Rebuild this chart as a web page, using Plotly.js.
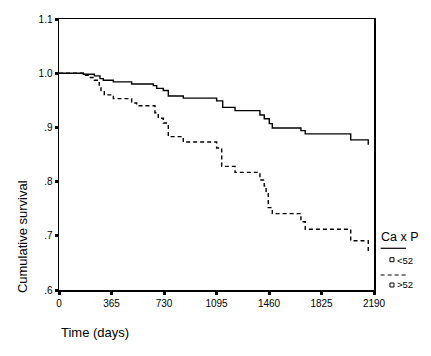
<!DOCTYPE html>
<html>
<head>
<meta charset="utf-8">
<script src="https://cdn.plot.ly/plotly-3.0.1.min.js"></script>
<style>html,body{margin:0;padding:0;background:#fff;}</style>
</head>
<body>
<div id="chart" style="width:431px;height:356px;"></div>
<script>
// Group "<52" (solid)
var lowDays = [0, 169, 246, 285, 308, 378, 505, 656, 679, 725, 760, 864, 1096, 1138, 1224, 1397, 1427, 1462, 1483, 1682, 1712, 2028, 2150];
var lowSurv = [1.0, 0.998, 0.995, 0.990, 0.987, 0.984, 0.980, 0.977, 0.972, 0.968, 0.958, 0.954, 0.949, 0.937, 0.931, 0.923, 0.916, 0.907, 0.899, 0.894, 0.888, 0.877, 0.868];
// Group ">52" (dashed)
var highDays = [0, 169, 204, 246, 280, 292, 315, 378, 505, 540, 667, 690, 725, 760, 864, 1096, 1131, 1224, 1397, 1427, 1440, 1455, 1483, 1682, 1712, 2028, 2150];
var highSurv = [1.0, 0.996, 0.992, 0.987, 0.978, 0.968, 0.960, 0.953, 0.945, 0.940, 0.927, 0.917, 0.908, 0.883, 0.873, 0.862, 0.828, 0.817, 0.803, 0.792, 0.780, 0.752, 0.741, 0.726, 0.712, 0.691, 0.671];

var xTicks = [0, 365, 730, 1095, 1460, 1825, 2190];
var yTicks = [0.6, 0.7, 0.8, 0.9, 1.0, 1.1];
var yTickText = ['.6', '.7', '.8', '.9', '1.0', '1.1'];

var legendTitle = 'Ca x P';
var groupNames = ['<52', '>52'];

var font = 'Liberation Sans, Arial, sans-serif';

var traces = [
  {x: lowDays, y: lowSurv, mode: 'lines', line: {shape: 'hv', color: '#000', width: 1.4}, name: groupNames[0], showlegend: false, hoverinfo: 'skip'},
  {x: highDays, y: highSurv, mode: 'lines', line: {shape: 'hv', color: '#000', width: 1.4, dash: '4px,3px'}, name: groupNames[1], showlegend: false, hoverinfo: 'skip'}
];

var W = 315, H = 271;
function px(p) { return p / W; }
function py(p) { return p / H; }

var shapes = [
  {type: 'line', xref: 'paper', yref: 'paper', x0: 1.021, x1: 1.1016, y0: 0.1539, y1: 0.1539, line: {color: '#000', width: 1.2}},
  {type: 'line', xref: 'paper', yref: 'paper', x0: 1.021, x1: 1.1016, y0: 0.0554, y1: 0.0554, line: {color: '#000', width: 1.2, dash: '4px,3px'}},
  {type: 'rect', xref: 'paper', yref: 'paper', x0: 1.057 - px(2), x1: 1.057 + px(2), y0: 0.1118 - py(2), y1: 0.1118 + py(2), line: {color: '#000', width: 1}, fillcolor: 'rgba(0,0,0,0)'},
  {type: 'rect', xref: 'paper', yref: 'paper', x0: 1.057 - px(2), x1: 1.057 + px(2), y0: 0.0185 - py(2), y1: 0.0185 + py(2), line: {color: '#000', width: 1}, fillcolor: 'rgba(0,0,0,0)'}
];

var annotations = [
  {text: 'Cumulative survival', xref: 'paper', yref: 'paper', x: -0.114, y: 0.1956, textangle: -90, showarrow: false, xanchor: 'center', yanchor: 'middle', font: {family: font, size: 13, color: '#000'}},
  {text: 'Time (days)', xref: 'paper', yref: 'paper', x: 0.0, y: -0.1576, showarrow: false, xanchor: 'left', yanchor: 'middle', font: {family: font, size: 13, color: '#000'}},
  {text: legendTitle, xref: 'paper', yref: 'paper', x: 1.016, y: 0.1956, showarrow: false, xanchor: 'left', yanchor: 'middle', font: {family: font, size: 12.5, color: '#000'}},
  {text: groupNames[0], xref: 'paper', yref: 'paper', x: 1.068, y: 0.1107, showarrow: false, xanchor: 'left', yanchor: 'middle', font: {family: font, size: 9.5, color: '#000'}},
  {text: groupNames[1], xref: 'paper', yref: 'paper', x: 1.068, y: 0.0185, showarrow: false, xanchor: 'left', yanchor: 'middle', font: {family: font, size: 9.5, color: '#000'}}
];

var layout = {
  width: 431, height: 356,
  margin: {l: 59, r: 57, t: 19, b: 66, pad: 0},
  paper_bgcolor: '#fff', plot_bgcolor: '#fff',
  font: {family: font, size: 10, color: '#000'},
  showlegend: false,
  xaxis: {
    range: [0, 2190], tickvals: xTicks, ticktext: xTicks.map(String),
    showgrid: false, zeroline: false, showline: true, linecolor: '#000', linewidth: 1.5, mirror: true,
    ticks: 'outside', ticklen: 3, tickwidth: 3, tickcolor: '#000',
    tickfont: {family: font, size: 10, color: '#000'}, fixedrange: true
  },
  yaxis: {
    range: [0.6, 1.1], tickvals: yTicks, ticktext: yTickText,
    showgrid: false, zeroline: false, showline: true, linecolor: '#000', linewidth: 1.5, mirror: true,
    ticks: 'outside', ticklen: 3, tickwidth: 3, tickcolor: '#000',
    tickfont: {family: font, size: 10, color: '#000'}, fixedrange: true
  },
  shapes: shapes,
  annotations: annotations
};

Plotly.newPlot('chart', traces, layout, {displayModeBar: false, staticPlot: true});
</script>
</body>
</html>
